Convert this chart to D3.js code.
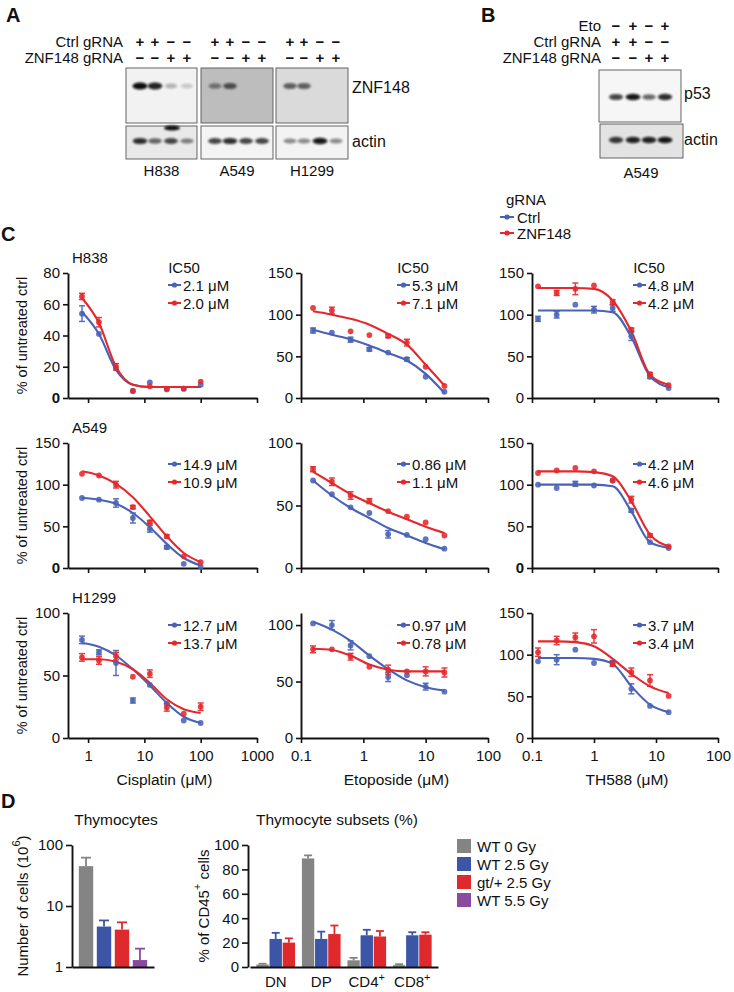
<!DOCTYPE html>
<html><head><meta charset="utf-8">
<script src="https://cdn.jsdelivr.net/npm/d3@7"></script>
<style>
html,body{margin:0;padding:0;background:#fff;}
svg text{font-family:"Liberation Sans",Arial,Helvetica,sans-serif;fill:#111;}
</style></head><body>
<svg id="fig" width="734" height="992" xmlns="http://www.w3.org/2000/svg"></svg>
<script>
// ---------------- DATA ----------------
// Panel A / B blots (relative band intensities per lane)
const ctrlMarksA = ["+","+","−","−"];
const znfMarksA  = ["−","−","+","+"];
const blotLinesA = ["H838","A549","H1299"];
const h838ZnfBands  = [1.0, 0.9, 0.28, 0.18];
const a549ZnfBands  = [0.45, 0.65, 0.0, 0.0];
const h1299ZnfBands = [0.6, 0.6, 0.0, 0.0];
const h838ActinBands  = [0.85, 0.6, 0.75, 0.5];
const a549ActinBands  = [0.75, 0.85, 0.75, 0.75];
const h1299ActinBands = [0.45, 0.45, 0.95, 0.45];
const etoMarksB  = ["−","+","−","+"];
const ctrlMarksB = ["+","+","−","−"];
const znfMarksB  = ["−","−","+","+"];
const p53BandsB   = [0.75, 0.95, 0.6, 0.85];
const actinBandsB = [0.8, 0.9, 0.9, 0.95];

// Panel C
const cisDoses = [0.78, 1.56, 3.13, 6.25, 12.5, 25, 50, 100];
const etoDoses = [0.156, 0.313, 0.625, 1.25, 2.5, 5, 10, 20];
const thDoses  = [0.125, 0.25, 0.5, 1, 2, 4, 8, 16];
const cellLines = ["H838", "A549", "H1299"];
const drugTitles = ["Cisplatin (μM)", "Etoposide (μM)", "TH588 (μM)"];
const cisTicks = [1, 10, 100, 1000];
const logTicks = [0.1, 1, 10, 100];
const yTicks80 = [0, 20, 40, 60, 80];
const yTicks150 = [0, 50, 100, 150];
const yTicks100 = [0, 50, 100];
const seriesNames = ["Ctrl", "ZNF148"];

const h838CisCtrl = [54, 41, 19, 4.5, 10, 5.5, 6, 8.5];
const h838CisCtrlErr = [5, 1.5, 1.5, 0.5, 1, 1, 0.5, 1];
const h838CisZnf = [65, 48.5, 20, 4.5, 7.5, 6, 6, 10.5];
const h838CisZnfErr = [2, 3, 2, 0.5, 1, 0.5, 0.5, 1];
const h838CisCtrlFit = [55, 41, 18, 8.5, 7, 7, 7, 7];
const h838CisZnfFit = [64, 48, 20, 8.5, 7, 7, 7, 7];

const h838EtoCtrl = [81, 78.5, 70, 58.5, 54.5, 46.5, 25.5, 7.5];
const h838EtoCtrlErr = [3, 1, 3, 2, 1, 2, 1, 1];
const h838EtoZnf = [108, 105, 80, 75.5, 74.5, 66.5, 37.5, 14.5];
const h838EtoZnfErr = [1.5, 4, 1, 1, 2, 4, 1.5, 1];
const h838EtoCtrlFit = [82, 76, 70.5, 63, 54, 45, 29, 6];
const h838EtoZnfFit = [104, 100, 95, 88, 77, 64, 40, 15];

const h838ThCtrl = [95, 100, 112, 106, 108, 74, 25.5, 12];
const h838ThCtrlErr = [3, 4, 1, 4, 4, 5, 2, 1.5];
const h838ThZnf = [134, 126, 131, 135, 115, 82, 28.5, 15.5];
const h838ThZnfErr = [1, 3, 7, 1, 3, 2, 2, 1];
const h838ThCtrlFit = [105, 105, 105, 105, 103, 73, 26, 13];
const h838ThZnfFit = [132, 132, 132, 131, 117, 80, 28, 16];

const a549CisCtrl = [84, 82, 78, 60, 47, 25, 5, 1.5];
const a549CisCtrlErr = [1, 1, 5, 6, 4, 2, 1, 1];
const a549CisZnf = [113, 111, 100, 73, 55, 38, 14, 7];
const a549CisZnfErr = [1, 1, 4, 2, 2, 2, 1, 1];
const a549CisCtrlFit = [84, 82, 77, 66, 49, 29, 12, 3];
const a549CisZnfFit = [116, 111, 101, 85, 62, 38, 18, 7];

const a549EtoCtrl = [70, 59, 48.5, 44, 27, 26.5, 23, 15.5];
const a549EtoCtrlErr = [1, 1, 1, 1, 3, 1, 1, 1];
const a549EtoZnf = [79, 69, 58, 53.5, 45.5, 41, 36.5, 26];
const a549EtoZnfErr = [2, 3, 3, 2, 1, 1, 1, 1];
const a549EtoCtrlFit = [70, 58, 48, 40, 32, 26, 20, 15];
const a549EtoZnfFit = [77, 68, 59, 52, 45, 39, 33, 28];

const a549ThCtrl = [100, 96, 101, 99, 105, 69, 31, 24];
const a549ThCtrlErr = [1, 1.5, 3, 1, 1, 2, 1, 1];
const a549ThZnf = [114, 117, 120, 116, 105, 82, 39, 26];
const a549ThZnfErr = [1, 1, 1, 1, 1, 4, 2, 1];
const a549ThCtrlFit = [100, 100, 100, 100, 98, 68, 31, 24];
const a549ThZnfFit = [116, 116, 116, 115, 110, 80, 40, 26];

const h1299CisCtrl = [78.5, 68.5, 60, 30, 42.5, 27.5, 14, 12];
const h1299CisCtrlErr = [3, 2, 10, 2, 1, 1, 1, 1];
const h1299CisZnf = [64.5, 62, 65.5, 49, 51.5, 24.5, 19.5, 25];
const h1299CisZnfErr = [3, 3, 3, 1, 3, 3, 1, 3];
const h1299CisCtrlFit = [76, 73, 66, 55, 42, 28, 17, 12];
const h1299CisZnfFit = [63, 63, 61, 55, 44, 31, 23, 20];

const h1299EtoCtrl = [101.5, 100, 82, 72.5, 54, 55.5, 45.5, 41];
const h1299EtoCtrlErr = [1, 4, 4, 1, 4, 1, 3, 1];
const h1299EtoZnf = [78.5, 78.5, 72, 63, 60.5, 59, 59, 58];
const h1299EtoZnfErr = [3, 1, 3, 1, 4, 1, 4, 4];
const h1299EtoCtrlFit = [103, 96, 86, 73, 61, 51, 45, 42];
const h1299EtoZnfFit = [79, 78, 73, 65, 60.5, 59, 59, 59];

const h1299ThCtrl = [92, 94, 106, 90, 90, 59, 38.5, 31];
const h1299ThCtrlErr = [1, 6, 1, 1, 3, 6, 1, 1];
const h1299ThZnf = [103, 117, 121, 122, 89, 79, 69, 50.5];
const h1299ThZnfErr = [5, 5, 5, 8, 3, 5, 7, 1];
const h1299ThCtrlFit = [96, 96, 96, 95, 89, 62, 40, 31];
const h1299ThZnfFit = [116, 116, 115, 110, 95, 77, 62, 54];

const ic50Ctrl = ["2.1 μM", "5.3 μM", "4.8 μM", "14.9 μM", "0.86 μM", "4.2 μM", "12.7 μM", "0.97 μM", "3.7 μM"];
const ic50Znf  = ["2.0 μM", "7.1 μM", "4.2 μM", "10.9 μM", "1.1 μM", "4.6 μM", "13.7 μM", "0.78 μM", "3.4 μM"];

// Panel D
const thymoGroups = ["WT 0 Gy", "WT 2.5 Gy", "gt/+ 2.5 Gy", "WT 5.5 Gy"];
const thymoCounts = [45, 4.6, 4.1, 1.3];
const thymoCountErr = [17, 1.2, 1.3, 0.7];
const thymoTicks = [1, 10, 100];
const subsetCats = ["DN", "DP", "CD4", "CD8"];
const subsetWT0   = [2, 89, 5.5, 1.5];
const subsetWT0Err = [0.7, 2.5, 2, 0.8];
const subsetWT25  = [23, 23, 26, 26];
const subsetWT25Err = [5, 6, 4.5, 2.5];
const subsetGt25  = [20, 27, 25, 26.5];
const subsetGt25Err = [3.5, 7, 4.5, 2];
const subsetTicks = [0, 20, 40, 60, 80, 100];

// ---------------- DRAW ----------------
const svg = d3.select("#fig");
const BLUE = "#4862b6", RED = "#e4282c";
const defs = svg.append("defs");
defs.append("filter").attr("id","blur").attr("x","-50%").attr("y","-100%").attr("width","200%").attr("height","300%")
  .append("feGaussianBlur").attr("stdDeviation", 1.1);

function label(t, x, y, size, opts = {}) {
  const el = svg.append("text").attr("x", x).attr("y", y).style("font-size", size + "px").text(t);
  if (opts.anchor) el.attr("text-anchor", opts.anchor);
  if (opts.bold) el.style("font-weight", "bold");
  if (opts.baseline) el.attr("dominant-baseline", opts.baseline);
  return el;
}
// panel letters
label("A", 6, 22, 20, {bold:true});
label("B", 481, 22, 20, {bold:true});
label("C", 1, 241, 20, {bold:true});
label("D", 1, 808, 20, {bold:true});

function marks(arr, xs, y) {
  svg.append("g").selectAll("text").data(arr).join("text")
    .attr("x", (d, i) => xs[i]).attr("y", y).attr("text-anchor", "middle")
    .style("font-size", "15px").style("font-weight", "bold").text(d => d);
}
function blot(box, bg, lanes, bandY, vals, rx, ry) {
  const g = svg.append("g");
  g.append("rect").attr("x", box[0]).attr("y", box[1]).attr("width", box[2]).attr("height", box[3])
    .attr("fill", bg).attr("stroke", "#555").attr("stroke-width", 0.9);
  g.selectAll("ellipse").data(vals).join("ellipse")
    .attr("cx", (d, i) => lanes[i]).attr("cy", bandY)
    .attr("rx", d => rx * (0.75 + 0.25 * d)).attr("ry", d => ry * (0.6 + 0.4 * d))
    .attr("fill", "#0c0c0c").attr("opacity", d => d).attr("filter", "url(#blur)");
}

// ---- Panel A ----
label("Ctrl gRNA", 123, 47, 15, {anchor:"end"});
label("ZNF148 gRNA", 123, 63, 15, {anchor:"end"});
const lanesA = [[140,155,171,187],[215,230,246,262],[290,304,320,336]];
const boxXA = [[126,71],[201,72],[276,72]];
const znfSets = [h838ZnfBands, a549ZnfBands, h1299ZnfBands];
const actSets = [h838ActinBands, a549ActinBands, h1299ActinBands];
const bgZ = ["#f2f2f2", "#bdbdbd", "#dadada"];
const bgA = ["#e9e9e9", "#f4f4f4", "#f3f3f3"];
blotLinesA.forEach((name, k) => {
  marks(ctrlMarksA, lanesA[k], 47);
  marks(znfMarksA, lanesA[k], 63);
  blot([boxXA[k][0], 68, boxXA[k][1], 55], bgZ[k], lanesA[k], 86, znfSets[k], 7.5, 3.6);
  blot([boxXA[k][0], 126, boxXA[k][1], 33], bgA[k], lanesA[k], 141, actSets[k], 7.5, 3.2);
  label(name, boxXA[k][0] + boxXA[k][1] / 2, 176, 15, {anchor:"middle"});
});
// extra smear in H838 actin lane 3
svg.append("ellipse").attr("cx", 172).attr("cy", 128).attr("rx", 8).attr("ry", 2.5).attr("fill", "#111").attr("filter", "url(#blur)");
label("ZNF148", 352, 87, 16, {baseline:"central"});
label("actin", 352, 141, 16, {baseline:"central"});

// ---- Panel B ----
const lanesB = [616, 633, 649, 665];
label("Eto", 601, 31, 15, {anchor:"end"});
label("Ctrl gRNA", 601, 47, 15, {anchor:"end"});
label("ZNF148 gRNA", 601, 63, 15, {anchor:"end"});
marks(etoMarksB, lanesB, 31);
marks(ctrlMarksB, lanesB, 47);
marks(znfMarksB, lanesB, 63);
blot([599, 70, 82, 52], "#f6f6f6", lanesB, 97, p53BandsB, 7.5, 3.4);
blot([600, 124, 83, 34], "#e3e3e3", lanesB, 140, actinBandsB, 7.5, 3.4);
label("p53", 684, 93, 16, {baseline:"central"});
label("actin", 684, 139, 16, {baseline:"central"});
label("A549", 641, 178, 15, {anchor:"middle"});

// gRNA legend
label("gRNA", 506, 205, 15);
[[BLUE, seriesNames[0], 217], [RED, seriesNames[1], 233]].forEach(([c, t, y]) => {
  svg.append("line").attr("x1", 500).attr("x2", 514).attr("y1", y).attr("y2", y).attr("stroke", c).attr("stroke-width", 2);
  svg.append("circle").attr("cx", 507).attr("cy", y).attr("r", 2.6).attr("fill", c);
  label(t, 517, y, 15, {baseline:"central"});
});

// ---- Panel C ----
const colLayout = [{x0:68, x1:257, dom:[0.44,1000], ticks:cisTicks, doses:cisDoses},
                   {x0:301, x1:488, dom:[0.1,100], ticks:logTicks, doses:etoDoses},
                   {x0:532, x1:718, dom:[0.1,100], ticks:logTicks, doses:thDoses}];
const rowLayout = [{top:273, bot:398}, {top:443, bot:568}, {top:613, bot:738}];
const legendY = [[285,303],[464,482],[625,643]];
const legendX = [168, 397, 633];

const panels = [
  [yTicks80, 80, h838CisCtrl, h838CisCtrlErr, h838CisZnf, h838CisZnfErr, h838CisCtrlFit, h838CisZnfFit, true],
  [yTicks150, 150, h838EtoCtrl, h838EtoCtrlErr, h838EtoZnf, h838EtoZnfErr, h838EtoCtrlFit, h838EtoZnfFit, false],
  [yTicks150, 150, h838ThCtrl, h838ThCtrlErr, h838ThZnf, h838ThZnfErr, h838ThCtrlFit, h838ThZnfFit, false],
  [yTicks150, 150, a549CisCtrl, a549CisCtrlErr, a549CisZnf, a549CisZnfErr, a549CisCtrlFit, a549CisZnfFit, true],
  [yTicks100, 100, a549EtoCtrl, a549EtoCtrlErr, a549EtoZnf, a549EtoZnfErr, a549EtoCtrlFit, a549EtoZnfFit, false],
  [yTicks150, 150, a549ThCtrl, a549ThCtrlErr, a549ThZnf, a549ThZnfErr, a549ThCtrlFit, a549ThZnfFit, true],
  [yTicks100, 100, h1299CisCtrl, h1299CisCtrlErr, h1299CisZnf, h1299CisZnfErr, h1299CisCtrlFit, h1299CisZnfFit, false],
  [yTicks100, 110.7, h1299EtoCtrl, h1299EtoCtrlErr, h1299EtoZnf, h1299EtoZnfErr, h1299EtoCtrlFit, h1299EtoZnfFit, false],
  [yTicks150, 150, h1299ThCtrl, h1299ThCtrlErr, h1299ThZnf, h1299ThZnfErr, h1299ThCtrlFit, h1299ThZnfFit, false]
];

function styleAxis(g, size) {
  g.select(".domain").attr("stroke", "#111").attr("stroke-width", 1.9);
  g.selectAll(".tick line").attr("stroke", "#111").attr("stroke-width", 1.6);
  g.selectAll(".tick text").style("font-size", size + "px").attr("fill", "#111");
}
const fmtDose = d => (d < 1 ? d3.format(".1f")(d) : d3.format("d")(d));

panels.forEach((p, idx) => {
  const r = Math.floor(idx / 3), c = idx % 3;
  const [yt, yMax, cM, cE, zM, zE, cF, zF, boldZero] = p;
  const L = colLayout[c], R = rowLayout[r];
  const x = d3.scaleLog().domain(L.dom).range([L.x0, L.x1]);
  const y = d3.scaleLinear().domain([0, yMax]).range([R.bot, R.top]);
  const g = svg.append("g");
  const ya = g.append("g").attr("transform", `translate(${L.x0},0)`)
    .call(d3.axisLeft(y).tickValues(yt).tickSize(5).tickSizeOuter(0).tickPadding(3).tickFormat(d3.format("d")));
  styleAxis(ya, 15);
  if (boldZero) ya.selectAll(".tick text").filter(d => d === 0).style("font-weight", "bold");
  const xa = g.append("g").attr("transform", `translate(0,${R.bot})`)
    .call(d3.axisBottom(x).tickValues(L.ticks).tickSize(5).tickSizeOuter(0).tickPadding(7)
      .tickFormat(r === 2 ? fmtDose : () => ""));
  styleAxis(xa, 15);

  const series = [[cM, cE, cF, BLUE], [zM, zE, zF, RED]];
  series.forEach(([m, e, f, col]) => {
    const line = d3.line().x((d, i) => x(L.doses[i])).y(d => y(d)).curve(d3.curveMonotoneX);
    g.append("path").attr("d", line(f)).attr("fill", "none").attr("stroke", col).attr("stroke-width", 2.1);
  });
  series.forEach(([m, e, f, col]) => {
    const eg = g.append("g").attr("stroke", col).attr("stroke-width", 1.5).attr("opacity", 0.9);
    m.forEach((v, i) => {
      if (e[i] < 1.6) return;
      const xx = x(L.doses[i]);
      eg.append("line").attr("x1", xx).attr("x2", xx).attr("y1", y(v - e[i])).attr("y2", y(v + e[i]));
      eg.append("line").attr("x1", xx - 3).attr("x2", xx + 3).attr("y1", y(v - e[i])).attr("y2", y(v - e[i]));
      eg.append("line").attr("x1", xx - 3).attr("x2", xx + 3).attr("y1", y(v + e[i])).attr("y2", y(v + e[i]));
    });
    g.append("g").selectAll("circle").data(m).join("circle")
      .attr("cx", (d, i) => x(L.doses[i])).attr("cy", d => y(d)).attr("r", 2.9)
      .attr("fill", col).attr("opacity", 0.88);
  });
  // legend
  const lx = legendX[c];
  [[BLUE, ic50Ctrl[idx], legendY[r][0]], [RED, ic50Znf[idx], legendY[r][1]]].forEach(([col, t, yy]) => {
    g.append("line").attr("x1", lx).attr("x2", lx + 13).attr("y1", yy).attr("y2", yy).attr("stroke", col).attr("stroke-width", 2);
    g.append("circle").attr("cx", lx + 6.5).attr("cy", yy).attr("r", 2.6).attr("fill", col);
    g.append("text").attr("x", lx + 15).attr("y", yy).attr("dominant-baseline", "central").style("font-size", "15px").text(t);
  });
  if (r === 0) label("IC50", lx + 16, 267, 15, {anchor:"middle", baseline:"central"});
  if (c === 0) {
    label(cellLines[r], L.x0 + 4, R.top - 10, 15);
    svg.append("text").attr("transform", `translate(22,${(R.top + R.bot) / 2}) rotate(-90)`)
      .attr("text-anchor", "middle").attr("dominant-baseline", "central").style("font-size", "14.5px").text("% of untreated ctrl");
  }
  if (r === 2) label(drugTitles[c], (L.x0 + L.x1) / 2 + 2, 785, 15.5, {anchor:"middle"});
});

// ---- Panel D ----
const GRAY = "#848484", DBLUE = "#3c55a6", DRED = "#e0292d", PURPLE = "#8a4a9f";
const dColors = [GRAY, DBLUE, DRED, PURPLE];
// left: thymocytes
const yL = d3.scaleLog().domain([1, 100]).range([967, 845]);
const xL = d3.scaleBand().domain(thymoGroups).range([72, 154]).paddingInner(0.2).paddingOuter(0.38);
const gl = svg.append("g");
const yla = gl.append("g").attr("transform", "translate(72,0)")
  .call(d3.axisLeft(yL).tickValues(thymoTicks).tickFormat(d3.format("d")).tickSize(6).tickSizeOuter(0).tickPadding(3));
styleAxis(yla, 15);
gl.append("g").selectAll("rect").data(thymoCounts).join("rect")
  .attr("x", (d, i) => xL(thymoGroups[i])).attr("width", xL.bandwidth())
  .attr("y", d => yL(d)).attr("height", d => yL(1) - yL(d)).attr("fill", (d, i) => dColors[i]);
thymoCounts.forEach((v, i) => {
  const cx = xL(thymoGroups[i]) + xL.bandwidth() / 2;
  gl.append("line").attr("x1", cx).attr("x2", cx).attr("y1", yL(v)).attr("y2", yL(v + thymoCountErr[i])).attr("stroke", dColors[i]).attr("stroke-width", 1.8);
  gl.append("line").attr("x1", cx - 5).attr("x2", cx + 5).attr("y1", yL(v + thymoCountErr[i])).attr("y2", yL(v + thymoCountErr[i])).attr("stroke", dColors[i]).attr("stroke-width", 1.8);
});
const xla = gl.append("g").attr("transform", "translate(0,967)").call(d3.axisBottom(xL).tickSize(0).tickSizeOuter(0).tickFormat(() => ""));
styleAxis(xla, 15);
label("Thymocytes", 116, 825, 15.5, {anchor:"middle"});
const ylab = svg.append("text").attr("transform", "translate(22,906) rotate(-90)").attr("text-anchor", "middle")
  .attr("dominant-baseline", "central").style("font-size", "15px");
ylab.append("tspan").text("Number of cells (10");
ylab.append("tspan").attr("dy", -6).style("font-size", "11px").text("6");
ylab.append("tspan").attr("dy", 6).text(")");

// right: subsets
const yR = d3.scaleLinear().domain([0, 100]).range([967, 845]);
const xR = d3.scaleBand().domain(subsetCats).range([250, 438]).paddingInner(0.15).paddingOuter(0.14);
const subsetSeries = [[subsetWT0, subsetWT0Err, GRAY], [subsetWT25, subsetWT25Err, DBLUE], [subsetGt25, subsetGt25Err, DRED]];
const xRi = d3.scaleBand().domain([0, 1, 2]).range([0, xR.bandwidth()]).paddingInner(0.06);
const gr = svg.append("g");
const yra = gr.append("g").attr("transform", "translate(248,0)")
  .call(d3.axisLeft(yR).tickValues(subsetTicks).tickSize(6).tickSizeOuter(0).tickPadding(3));
styleAxis(yra, 15);
subsetSeries.forEach(([vals, errs, col], s) => {
  vals.forEach((v, i) => {
    const bx = xR(subsetCats[i]) + xRi(s);
    gr.append("rect").attr("x", bx).attr("width", xRi.bandwidth()).attr("y", yR(v)).attr("height", yR(0) - yR(v)).attr("fill", col);
    const cx = bx + xRi.bandwidth() / 2;
    gr.append("line").attr("x1", cx).attr("x2", cx).attr("y1", yR(v)).attr("y2", yR(v + errs[i])).attr("stroke", col).attr("stroke-width", 1.8);
    gr.append("line").attr("x1", cx - 4).attr("x2", cx + 4).attr("y1", yR(v + errs[i])).attr("y2", yR(v + errs[i])).attr("stroke", col).attr("stroke-width", 1.8);
  });
});
const xra = gr.append("g").attr("transform", "translate(0,967)").call(d3.axisBottom(xR).tickSize(0).tickSizeOuter(0).tickPadding(9));
styleAxis(xra, 15);
xra.selectAll(".tick text").each(function(d) {
  if (d === "CD4" || d === "CD8") {
    const t = d3.select(this);
    t.text(d);
    t.append("tspan").attr("dy", -6).style("font-size", "11px").text("+");
  }
});
label("Thymocyte subsets (%)", 337, 825, 15.5, {anchor:"middle"});
const yrlab = svg.append("text").attr("transform", "translate(203,906) rotate(-90)").attr("text-anchor", "middle")
  .attr("dominant-baseline", "central").style("font-size", "15px");
yrlab.append("tspan").text("% of CD45");
yrlab.append("tspan").attr("dy", -6).style("font-size", "11px").text("+");
yrlab.append("tspan").attr("dy", 6).text(" cells");

// legend D
thymoGroups.forEach((t, i) => {
  const cy = 846 + i * 18;
  svg.append("rect").attr("x", 457).attr("y", cy - 7).attr("width", 14).attr("height", 14).attr("fill", dColors[i]);
  label(t, 477, cy, 15, {baseline:"central"});
});
</script></body></html>
